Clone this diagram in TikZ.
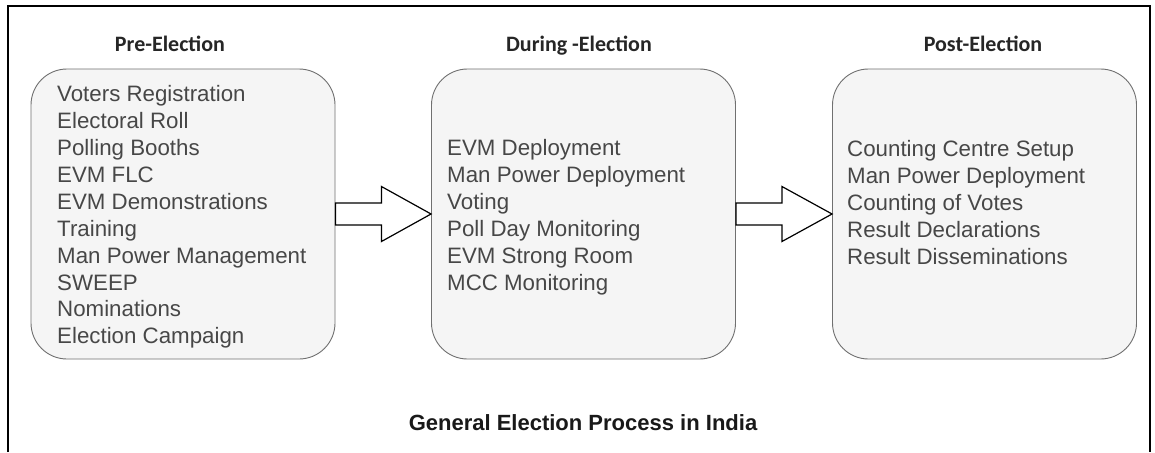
\documentclass[tikz,border=0pt]{standalone}
\usepackage{fontspec}
\setmainfont{Liberation Sans}
\newfontfamily\titlefont{Carlito}
\usetikzlibrary{calc}
\definecolor{boxfill}{HTML}{F5F5F5}
\definecolor{boxline}{HTML}{707070}
\definecolor{itemtext}{HTML}{474747}
\begin{document}
\begin{tikzpicture}[x=1pt,y=-1pt,
  stagebox/.style={draw=boxline, line width=0.9pt, fill=boxfill, rounded corners=36pt,
    minimum width=304pt, minimum height=290pt, inner sep=0pt},
  items/.style={anchor=west, align=left, inner sep=0pt, text=itemtext,
    font=\fontsize{22.3}{26.9}\selectfont},
  heading/.style={font=\titlefont\bfseries\fontsize{22}{26}\selectfont, text=black!85, inner sep=0pt},
  fatarrow/.style={draw=black, line width=1.2pt, fill=white, line join=miter}
]
\useasboundingbox (0,0) rectangle (1155,452);
\fill[white] (0,0) rectangle (1155,452);
% outer frame (bottom side lies outside the picture)
\draw[line width=1.5pt] (8,452) -- (8,6) -- (1150,6) -- (1150,452);

% headings
\node[heading] (hpre) at (170,44) {Pre-Election};
\node[heading] (hdur) at (579,46) {During -Election};
\node[heading] (hpost) at (983,44) {Post-Election};

% boxes
\node[stagebox] (pre) at (183,214) {};
\node[stagebox] (dur) at (583.5,214) {};
\node[stagebox] (post) at (984.5,214) {};

% box texts
\node[items] (pretext) at (57,217) {Voters Registration\\Electoral Roll\\Polling Booths\\EVM FLC\\EVM Demonstrations\\Training\\Man Power Management\\SWEEP\\Nominations\\Election Campaign};
\node[items] (durtext) at (447,217) {EVM Deployment\\Man Power Deployment\\Voting\\Poll Day Monitoring\\EVM Strong Room\\MCC Monitoring};
\node[items] (posttext) at (847,202.5) {Counting Centre Setup\\Man Power Deployment\\Counting of Votes\\Result Declarations\\Result Disseminations};

% block arrows
\draw[fatarrow] ($(pre.east)+(0,-11)$) -- ++(46,0) -- ++(0,-16.5) -- (dur.west)
  -- ($(pre.east)+(46,27.5)$) -- ++(0,-16.5) -- ($(pre.east)+(0,11)$) -- cycle;
\draw[fatarrow] ($(dur.east)+(0,-11)$) -- ++(46,0) -- ++(0,-16.5) -- (post.west)
  -- ($(dur.east)+(46,27.5)$) -- ++(0,-16.5) -- ($(dur.east)+(0,11)$) -- cycle;

% caption
\node[font=\bfseries\fontsize{22}{26}\selectfont, text=black!90, inner sep=0pt] (caption) at (583,423) {General Election Process in India};
\end{tikzpicture}
\end{document}
